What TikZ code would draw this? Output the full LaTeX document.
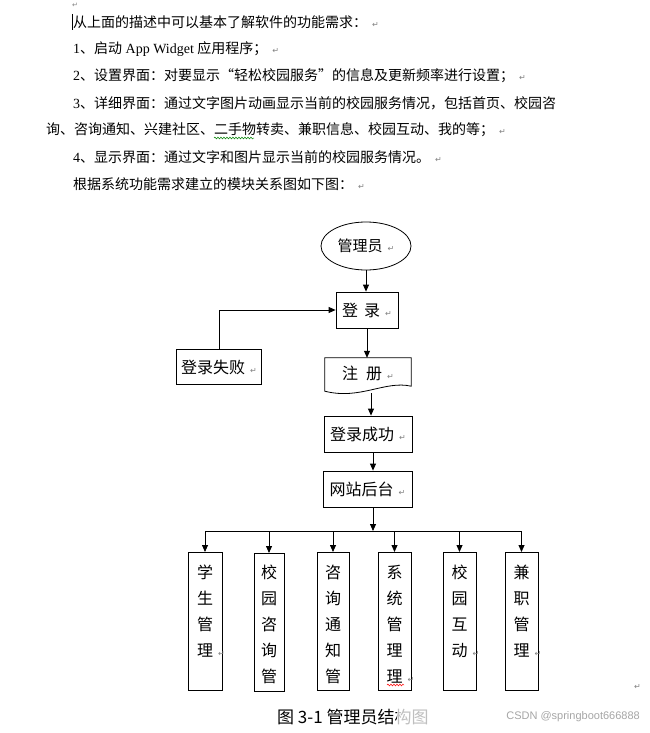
\documentclass[tikz,border=0pt]{standalone}
\usepackage{fontspec}
\setmainfont{Liberation Serif}
\newfontfamily\cjk{Noto Sans CJK SC}
\newfontfamily\djv{DejaVu Sans}
\newfontfamily\wmfont{Liberation Sans}
\usetikzlibrary{shapes.geometric,arrows.meta,decorations.pathmorphing,calc}
\newcommand\retmark{\hspace{5pt}{\djv\fontsize{8}{8}\selectfont\color{gray}↵}}
\begin{document}
\begin{tikzpicture}[x=1pt,y=-1pt,
  txt/.style={anchor=west, inner sep=0, font=\rmfamily\fontsize{14}{14}\selectfont},
  box/.style={draw, line width=0.8pt, inner sep=0, font=\cjk\fontsize{16}{16}\selectfont},
  vbox/.style={draw, line width=0.8pt, inner sep=0, anchor=north, minimum height=138},
  vtext/.style={anchor=north, inner sep=0, align=center, font=\cjk\fontsize{16}{26}\selectfont},
  arr/.style={-{Triangle[length=7pt,width=6pt]}, line width=0.8pt},
  conn/.style={line width=0.8pt},
  wavy/.style={decorate, decoration={snake, amplitude=0.9pt, segment length=3pt}, line width=0.5pt}
]
\useasboundingbox (0,0) rectangle (650,733);

% text paragraph
\node[txt, font=\djv\fontsize{7}{7}\selectfont, text=gray] (r0) at (72,5) {↵};
\draw[line width=0.8pt] (72.5,14) -- (72.5,30);
\node[txt] (l1) at (73,22) {{\cjk 从上面的描述中可以基本了解软件的功能需求：}\retmark};
\node[txt] (l2) at (73,49) {1{\cjk 、启动} App Widget {\cjk 应用程序；}\retmark};
\node[txt] (l3) at (73,76) {2{\cjk 、设置界面：对要显示“轻松校园服务”的信息及更新频率进行设置；}\retmark};
\node[txt] (l4) at (73,103) {3{\cjk 、详细界面：通过文字图片动画显示当前的校园服务情况，包括首页、校园咨}};
\node[txt] (l5) at (46,130) {{\cjk 询、咨询通知、兴建社区、二手物转卖、兼职信息、校园互动、我的等；}\retmark};
\node[txt] (l6) at (73,157) {4{\cjk 、显示界面：通过文字和图片显示当前的校园服务情况。}\retmark};
\node[txt] (l7) at (73,184) {{\cjk 根据系统功能需求建立的模块关系图如下图：}\retmark};
\draw[wavy, green!50!black] (214,138) -- (254,138);

% flow chart
\node[ellipse, draw, line width=0.8pt, minimum width=90, minimum height=48, inner sep=0,
      font=\cjk\fontsize{15}{15}\selectfont] (admin) at (366,246) {管理员\retmark};
\node[box, minimum width=62, minimum height=36] (login) at (367,310) {登\hspace{6pt}录\retmark};
\node[box, minimum width=85, minimum height=35] (fail) at (219,367) {登录失败\retmark};
\node[inner sep=0, minimum width=86, minimum height=30, font=\cjk\fontsize{16}{16}\selectfont] (reg) at (368,373) {注\hspace{8pt}册\retmark};
\draw[line width=0.8pt] (reg.north west) -- (reg.north east) -- ($(reg.south east)+(0,-2)$)
  .. controls ($(reg.south)+(17,-8)$) and ($(reg.south)+(-8,12)$) .. ($(reg.south west)+(0,3)$) -- cycle;
\node[box, minimum width=88, minimum height=36] (success) at (368,434) {登录成功\retmark};
\node[box, minimum width=89, minimum height=36] (site) at (367.5,489) {网站后台\retmark};

\draw[arr] (admin.south) -- (login.north -| admin.south);
\draw[arr] (fail.north) |- (login.west);
\draw[arr] (login.south) -- (reg.north -| login.south);
\draw[arr] ($(reg.south)+(3,5)$) -- ($(success.north)+(3,0)$);
\draw[arr] ($(success.south)+(5,0)$) -- ($(site.north)+(5.5,0)$);
\coordinate (bus) at (373,531);
\draw[arr] ($(site.south)+(5.5,0)$) -- (bus);

% module boxes
\node[vbox, minimum width=34] (b1) at (205,552) {};
\node[vbox, minimum width=30] (b2) at (269,553) {};
\node[vbox, minimum width=32] (b3) at (333,552) {};
\node[vbox, minimum width=33] (b4) at (394.5,552) {};
\node[vbox, minimum width=33] (b5) at (459.5,552) {};
\node[vbox, minimum width=33] (b6) at (521.5,552) {};
\node[vtext] (t1) at (205,565) {学\\生\\管\\理\rlap{\retmark}};
\node[vtext] (t2) at (269,565) {校\\园\\咨\\询\\管};
\node[vtext] (t3) at (333,565) {咨\\询\\通\\知\\管};
\node[vtext] (t4) at (394.5,565) {系\\统\\管\\理\\理\rlap{\retmark}};
\node[vtext] (t5) at (459.5,565) {校\\园\\互\\动\rlap{\retmark}};
\node[vtext] (t6) at (521.5,565) {兼\\职\\管\\理\rlap{\retmark}};
\draw[wavy, red] (387,685) -- (404,685);

\coordinate (busL) at (205,531);
\coordinate (busR) at (521.5,531);
\draw[conn] (busL) -- (busR);
\foreach \b in {b1,b2,b3,b4,b5,b6}{
  \draw[arr] (\b.north |- busL) -- (\b.north);
}

\node[txt, font=\djv\fontsize{8}{8}\selectfont, text=gray] (r9) at (634,687) {↵};

% caption with watermark
\node[txt, font=\cjk\fontsize{17}{17}\selectfont] (cap) at (277,717) {图 3-1 管理员结构图};
\fill[white, opacity=0.75] (397,705) rectangle (646,730);
\node[anchor=east, inner sep=0, text=gray!70, font=\wmfont\fontsize{11}{11}\selectfont] (wm) at (640,717) {CSDN @springboot666888};
\end{tikzpicture}
\end{document}
